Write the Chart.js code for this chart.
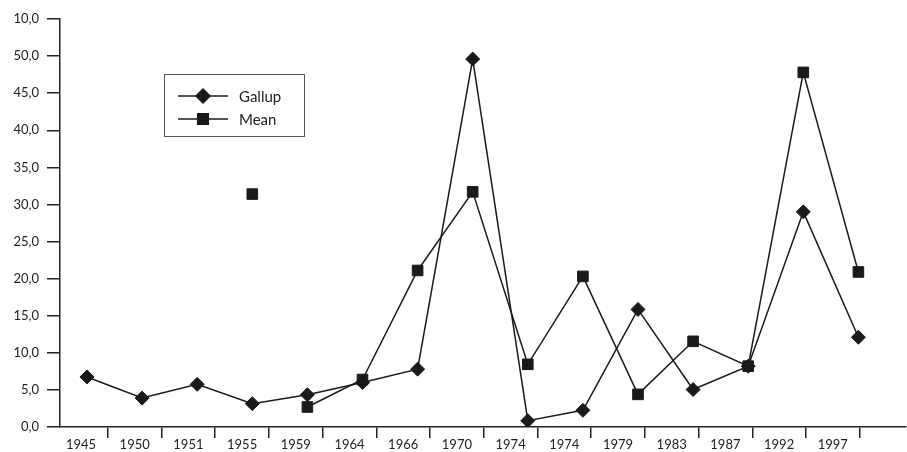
<!DOCTYPE html>
<html>
<head>
<meta charset="utf-8">
<script src="https://cdn.jsdelivr.net/npm/chart.js@4.4.0/dist/chart.umd.min.js"></script>
<style>
  html, body { margin: 0; padding: 0; background: #fff; }
  #wrap { width: 907px; height: 452px; position: relative; }
</style>
</head>
<body>
<div id="wrap"><canvas id="myChart"></canvas></div>
<script>
// categories as printed under the axis (1974 appears twice in the source)
const years = ['1945', '1950', '1951', '1955', '1959', '1964', '1966', '1970',
               '1974', '1974', '1979', '1983', '1987', '1992', '1997'];

const gallup = [6.75, 3.9, 5.75, 3.15, 4.35, 6.0, 7.8, 49.6,
                0.85, 2.25, 15.85, 5.05, 8.2, 29.0, 12.1];

// no value for the first three years; 1955 stands alone (not joined)
const mean = [null, null, null, 31.4, 2.7, 6.4, 21.1, 31.7,
              8.45, 20.3, 4.4, 11.55, 8.2, 47.8, 20.9];

const yTicks = [0, 5, 10, 15, 20, 25, 30, 35, 40, 45, 50, 55];
const yTopLabel = '10,0'; // the top tick is printed this way in the original

const ink = '#1a1a1a';

function toPoints(arr) {
    return arr.map((v, i) => ({ x: i, y: v }));
}

// legend box drawn inside the plot, like the original
const boxLegend = {
    id: 'boxLegend',
    afterDraw(chart) {
        const ctx = chart.ctx;
        const items = chart.data.datasets;
        ctx.save();
        ctx.strokeStyle = '#555';
        ctx.lineWidth = 1;
        ctx.strokeRect(164.5, 74.5, 140, 62);
        items.forEach((ds, i) => {
            const y = 96 + i * 23;
            ctx.strokeStyle = ink;
            ctx.lineWidth = 1.5;
            ctx.beginPath();
            ctx.moveTo(178, y);
            ctx.lineTo(228, y);
            ctx.stroke();
            Chart.helpers.drawPoint(ctx, {
                pointStyle: ds.pointStyle,
                radius: ds.pointRadius,
                borderWidth: 1
            }, 203, y);
            ctx.fillStyle = ink;
            ctx.fill();
            ctx.fillStyle = '#222';
            ctx.font = '15px Lato';
            ctx.textBaseline = 'middle';
            ctx.textAlign = 'left';
            ctx.fillText(ds.label, 239, y + 1);
        });
        ctx.restore();
    }
};

// keep the plot edges where the original has them
function noPad(scale) {
    scale.paddingLeft = 0;
    scale.paddingRight = 0;
    scale.paddingTop = 0;
    scale.paddingBottom = 0;
}

const ctx = document.getElementById('myChart').getContext('2d');

window.myChart = new Chart(ctx, {
    type: 'line',
    data: {
        datasets: [{
            label: 'Gallup',
            data: toPoints(gallup),
            xAxisID: 'xd',
            borderColor: ink,
            borderWidth: 1.5,
            pointStyle: 'rectRot',
            pointRadius: 7,
            pointBackgroundColor: ink,
            pointBorderColor: ink,
            pointBorderWidth: 1,
            tension: 0,
            order: 1
        }, {
            label: 'Mean',
            data: toPoints(mean),
            xAxisID: 'xd',
            borderColor: ink,
            borderWidth: 1.5,
            pointStyle: 'rect',
            pointRadius: 7.5,
            pointBackgroundColor: ink,
            pointBorderColor: ink,
            pointBorderWidth: 1,
            tension: 0,
            spanGaps: false,
            segment: {
                borderColor: c => c.p0DataIndex === 3 ? 'rgba(0,0,0,0)' : ink
            },
            order: 0
        }]
    },
    options: {
        responsive: true,
        maintainAspectRatio: false,
        animation: false,
        layout: { autoPadding: false, padding: { top: 19, right: 1, left: 0, bottom: 1 } },
        plugins: {
            legend: { display: false },
            tooltip: { enabled: false }
        },
        scales: {
            // data positions
            xd: {
                type: 'linear',
                display: false,
                min: -0.49,
                max: 14.864,
                afterFit: noPad
            },
            // printed year labels with tick marks between them
            x: {
                type: 'linear',
                position: 'bottom',
                min: -0.391,
                max: 15.363,
                afterBuildTicks: scale => {
                    const t = [];
                    years.forEach((y, i) => {
                        t.push({ value: i });
                        t.push({ value: i + 0.5 });
                    });
                    scale.ticks = t;
                },
                afterFit: noPad,
                ticks: {
                    autoSkip: false,
                    maxRotation: 0,
                    padding: 0,
                    color: '#222',
                    font: { family: 'Lato', size: 13, lineHeight: 1.0 },
                    callback: value => Number.isInteger(value) ? years[value] : ''
                },
                grid: {
                    drawOnChartArea: false,
                    tickLength: 11,
                    lineWidth: 1.5,
                    color: c => (c.tick && Number.isInteger(c.tick.value)) ? 'rgba(0,0,0,0)' : '#222'
                },
                border: { display: true, color: '#222', width: 1.5 }
            },
            y: {
                min: 0,
                max: 55,
                afterBuildTicks: scale => {
                    scale.ticks = yTicks.map(v => ({ value: v }));
                },
                afterFit: scale => { noPad(scale); scale.width = 60; },
                ticks: {
                    padding: 8,
                    color: '#222',
                    font: { family: 'Lato', size: 13 },
                    callback: value => value === 55 ? yTopLabel : value.toFixed(1).replace('.', ',')
                },
                grid: {
                    drawOnChartArea: false,
                    tickLength: 13,
                    lineWidth: 1.5,
                    color: '#222'
                },
                border: { display: true, color: '#222', width: 1.5 }
            }
        }
    },
    plugins: [boxLegend]
});
</script>
</body>
</html>
